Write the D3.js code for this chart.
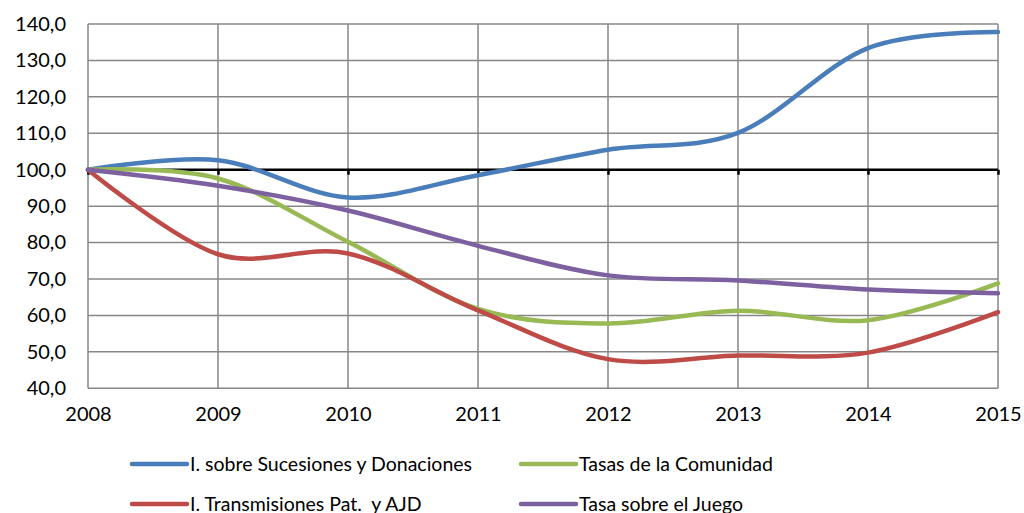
<!DOCTYPE html>
<html>
<head>
<meta charset="utf-8">
<script src="https://cdn.jsdelivr.net/npm/d3@7"></script>
<style>
  body { margin: 0; background: #fff; }
  svg { display: block; font-family: Lato, "Open Sans", sans-serif; }
</style>
</head>
<body>
<svg id="chart" width="1024" height="513"></svg>
<script>
const years = [2008, 2009, 2010, 2011, 2012, 2013, 2014, 2015];
const yTicks = [40, 50, 60, 70, 80, 90, 100, 110, 120, 130, 140];

const sucesiones = [100, 102.6, 92.4, 98.5, 105.5, 110.1, 133.4, 137.8];
const tasasComunidad = [100, 97.6, 80.2, 61.8, 57.8, 61.3, 58.7, 68.8];
const transmisiones = [100, 76.8, 77.0, 61.4, 48.0, 49.0, 49.8, 60.9];
const juego = [100, 95.6, 88.8, 79.1, 71.0, 69.6, 67.1, 66.1];

const series = [
  { name: "I. sobre Sucesiones y Donaciones", values: sucesiones, color: "#4a7ebb" },
  { name: "Tasas de la Comunidad", values: tasasComunidad, color: "#98b954" },
  { name: "I. Transmisiones Pat.  y AJD", values: transmisiones, color: "#be4b48" },
  { name: "Tasa sobre el Juego", values: juego, color: "#7d60a0" },
];

const svg = d3.select("#chart");

const x = d3.scaleLinear().domain([2008, 2015]).range([88, 998]);
const y = d3.scaleLinear().domain([40, 140]).range([388.3, 24]);

// grid
const grid = svg.append("g");
grid.selectAll(".hgrid")
  .data(yTicks)
  .enter()
  .append("line")
  .attr("x1", x(2008))
  .attr("x2", x(2015))
  .attr("y1", (d) => y(d))
  .attr("y2", (d) => y(d))
  .attr("stroke", "#878787")
  .attr("stroke-width", 1.5);

grid.selectAll(".vgrid")
  .data(years)
  .enter()
  .append("line")
  .attr("x1", (d) => x(d))
  .attr("x2", (d) => x(d))
  .attr("y1", y(140))
  .attr("y2", y(40))
  .attr("stroke", "#878787")
  .attr("stroke-width", 1.5);

// y labels
svg.append("g")
  .attr("transform", `translate(${x(2008) - 8},0)`)
  .call(d3.axisLeft(y).tickValues(yTicks).tickSize(0).tickPadding(14)
    .tickFormat((d) => d3.format(".1f")(d).replace(".", ",")))
  .call((g) => g.select(".domain").remove())
  .selectAll("text")
  .attr("font-family", "Lato, 'Open Sans', sans-serif")
  .attr("font-size", 20)
  .attr("fill", "#000");

// x labels at bottom
svg.append("g")
  .attr("transform", `translate(0,${y(40)})`)
  .call(d3.axisBottom(x).tickValues(years).tickSize(0).tickPadding(19).tickFormat(d3.format("d")))
  .call((g) => g.select(".domain").remove())
  .selectAll("text")
  .attr("font-family", "Lato, 'Open Sans', sans-serif")
  .attr("font-size", 20)
  .attr("fill", "#000");

// baseline at 100 with ticks
svg.append("g")
  .attr("transform", `translate(0,${y(100)})`)
  .call(d3.axisBottom(x).tickValues(years).tickSize(5).tickFormat(""))
  .call((g) => g.select(".domain")
    .attr("d", `M${x(2008)},0H${x(2015)}`)
    .attr("stroke", "#000")
    .attr("stroke-width", 2.5))
  .call((g) => g.selectAll(".tick line").attr("stroke", "#000").attr("stroke-width", 2.5));

// lines
const line = d3.line()
  .curve(d3.curveCardinal.tension(0))
  .x((d, i) => x(years[i]))
  .y((d) => y(d));

svg.selectAll(".series")
  .data(series)
  .enter()
  .append("path")
  .attr("class", "series")
  .attr("fill", "none")
  .attr("stroke", (d) => d.color)
  .attr("stroke-width", 4.5)
  .attr("stroke-linecap", "round")
  .attr("d", (d) => line(d.values));

// legend
const legendPos = [
  { lx: 132, ly: 464 },
  { lx: 521, ly: 464 },
  { lx: 132, ly: 504 },
  { lx: 521, ly: 504 },
];

const legend = svg.append("g");
const items = legend.selectAll("g")
  .data(series)
  .enter()
  .append("g")
  .attr("transform", (d, i) => `translate(${legendPos[i].lx},${legendPos[i].ly})`);

items.append("line")
  .attr("x1", 0)
  .attr("x2", 55)
  .attr("stroke", (d) => d.color)
  .attr("stroke-width", 4.5)
  .attr("stroke-linecap", "round");

items.append("text")
  .attr("x", 58)
  .attr("dy", "0.35em")
  .attr("font-size", 19.5)
  .attr("fill", "#000")
  .style("white-space", "pre")
  .text((d) => d.name);
</script>
</body>
</html>
